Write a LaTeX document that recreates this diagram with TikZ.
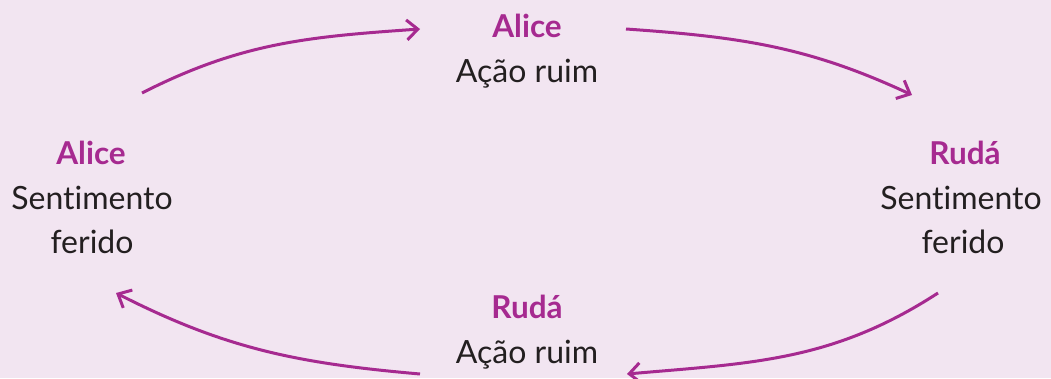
\documentclass[tikz,border=0pt]{standalone}
\usepackage{fontspec}
\setmainfont[Ligatures=NoCommon]{Lato}
\usetikzlibrary{arrows.meta}
\definecolor{bgpink}{HTML}{F2E5F1}
\definecolor{plum}{HTML}{A62A90}
\definecolor{ink}{HTML}{231F20}
\tikzset{
  who/.style={anchor=base, text=plum, font=\fontsize{31.5}{36}\selectfont\bfseries, inner sep=0pt},
  what/.style={anchor=base, text=ink, font=\fontsize{32}{36}\selectfont, inner sep=0pt},
  flow/.style={draw=plum, line width=3pt, -{Straight Barb[length=11pt,width=20pt,line width=3pt]}},
}
\begin{document}
\begin{tikzpicture}[x=1pt,y=1pt]
  \fill[bgpink] (0,0) rectangle (1051,378);
  \useasboundingbox (0,0) rectangle (1051,378);
  % top: Alice
  \node[who]  (topName)  at (527,340) {Alice};
  \node[what] (topAct)   at (527,295) {Ação ruim};
  % right: Rudá
  \node[who]  (rightName) at (965,213) {Rudá};
  \node[what] (rightL1)   at (961,169) {Sentimento};
  \node[what] (rightL2)   at (963,125) {ferido};
  % bottom: Rudá
  \node[who]  (botName)  at (527,60) {Rudá};
  \node[what] (botAct)   at (527,15) {Ação ruim};
  % left: Alice
  \node[who]  (leftName) at (91,213) {Alice};
  \node[what] (leftL1)   at (92,169) {Sentimento};
  \node[what] (leftL2)   at (92,125) {ferido};
  % arrow end points
  \coordinate (a1) at (142,285);
  \coordinate (b1) at (420,349);
  \coordinate (a2) at (626,349);
  \coordinate (b2) at (912,283);
  \coordinate (a3) at (938,85);
  \coordinate (b3) at (627,4);
  \coordinate (a4) at (420,4);
  \coordinate (b4) at (116,85);
  \draw[flow] (a1) to[out=27,in=184] (b1);
  \draw[flow] (a2) to[out=-4,in=155] (b2);
  \draw[flow] (a3) to[out=213,in=5] (b3);
  \draw[flow] (a4) to[out=175,in=-27] (b4);
\end{tikzpicture}
\end{document}
